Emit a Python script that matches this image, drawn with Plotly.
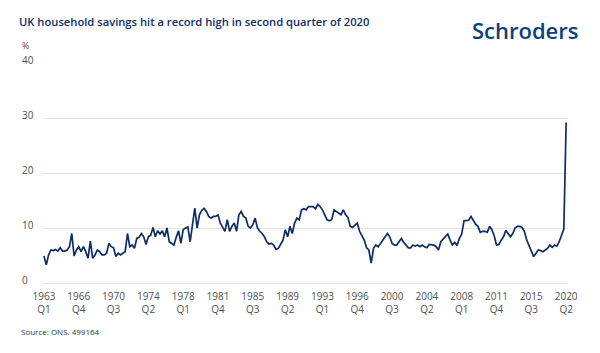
import plotly.graph_objects as go

title_text = "UK household savings hit a record high in second quarter of 2020"
source_text = "Source: ONS. 499164"

tick_labels = ["1963<br>Q1", "1966<br>Q4", "1970<br>Q3", "1974<br>Q2", "1978<br>Q1",
               "1981<br>Q4", "1985<br>Q3", "1989<br>Q2", "1993<br>Q1", "1996<br>Q4",
               "2000<br>Q3", "2004<br>Q2", "2008<br>Q1", "2011<br>Q4", "2015<br>Q3",
               "2020<br>Q2"]

y_ticks = [0, 10, 20, 30, 40]

savings_ratio = [
    4.9, 3.3, 5.1, 6.0, 5.9, 6.1, 5.8, 6.4, 5.8, 5.8,
    6.0, 6.6, 9.0, 4.9, 6.0, 6.6, 5.7, 6.6, 5.7, 4.5,
    7.6, 4.5, 5.1, 6.0, 5.7, 5.1, 5.1, 5.4, 7.2, 6.6,
    6.4, 4.8, 5.4, 5.1, 5.4, 5.7, 9.0, 6.6, 6.9, 6.3,
    8.1, 8.3, 9.0, 8.4, 7.0, 8.4, 8.7, 10.1, 8.4, 9.5,
    8.9, 9.5, 8.4, 10.0, 7.5, 7.2, 6.9, 8.3, 9.5, 7.2,
    9.7, 10.0, 10.2, 7.5, 10.9, 13.6, 10.0, 12.4, 13.2, 13.6,
    13.0, 12.1, 11.8, 12.1, 12.1, 12.4, 10.9, 10.0, 9.4, 11.5,
    9.4, 10.3, 10.9, 9.4, 12.4, 13.0, 12.1, 11.8, 10.3, 10.0,
    10.6, 11.8, 10.0, 9.4, 9.0, 8.4, 7.5, 7.1, 7.2, 6.9,
    6.1, 6.3, 7.0, 7.8, 9.7, 8.4, 10.3, 9.0, 10.9, 11.8,
    11.5, 13.3, 13.5, 13.3, 13.9, 13.9, 13.9, 13.5, 14.3, 13.9,
    13.3, 12.4, 11.5, 11.3, 11.5, 13.3, 13.0, 12.7, 12.4, 13.3,
    12.4, 11.9, 10.3, 10.1, 10.6, 10.9, 9.4, 8.6, 7.8, 6.4,
    6.0, 3.6, 6.3, 6.9, 6.6, 7.2, 7.8, 8.4, 9.0, 8.4,
    7.2, 6.9, 6.9, 7.5, 8.1, 7.4, 6.9, 6.4, 6.4, 6.9,
    6.7, 6.9, 6.6, 6.9, 6.6, 6.4, 7.0, 6.9, 6.9, 6.6,
    6.0, 7.5, 8.0, 8.4, 8.9, 7.8, 6.9, 7.4, 6.8, 8.1,
    8.9, 11.3, 11.3, 11.4, 12.1, 11.4, 10.7, 10.3, 9.2, 9.4,
    9.4, 9.2, 10.3, 9.7, 8.6, 6.9, 7.0, 7.8, 8.4, 9.6,
    9.0, 8.4, 9.0, 10.0, 10.3, 10.3, 10.1, 9.4, 7.8, 6.7,
    5.7, 4.8, 5.4, 6.0, 5.9, 5.7, 6.0, 6.3, 6.9, 6.5,
    6.9, 6.7, 7.5, 8.5, 9.8, 29.2,
]

x_index = list(range(len(savings_ratio)))
tick_positions = list(range(0, len(savings_ratio), 15))

NAVY = "#0e2c66"
GREY_TXT = "#505050"
GRID = "#e4e4e4"

# plot area in pixels: x 43..568, y 63..283
L, R, T, B = 43, 568, 63, 283
PW, PH = R - L, B - T


def px(xp):
    return (xp - L) / PW


def py(yp):
    return (B - yp) / PH


fig = go.Figure()
fig.add_trace(go.Scatter(
    x=x_index, y=savings_ratio, mode="lines",
    line=dict(color=NAVY, width=1.7),
    hoverinfo="skip", showlegend=False,
))

fig.update_layout(
    width=600, height=353,
    margin=dict(l=L, r=600 - R, t=T, b=353 - B),
    paper_bgcolor="white", plot_bgcolor="white",
    font=dict(family="Open Sans", size=10, color=GREY_TXT),
    xaxis=dict(
        range=[-0.4, len(savings_ratio) - 1 + 0.8],
        tickmode="array", tickvals=tick_positions, ticktext=tick_labels,
        showgrid=False, zeroline=False, showline=False, ticks="",
        ticklabelstandoff=6,
        tickfont=dict(family="Open Sans", size=10, color=GREY_TXT),
        fixedrange=True,
    ),
    yaxis=dict(
        range=[0, 40], tickmode="array", tickvals=y_ticks,
        showticklabels=False, showgrid=True, gridcolor=GRID, gridwidth=1,
        zeroline=True, zerolinecolor=GRID, zerolinewidth=1, showline=False,
        fixedrange=True,
    ),
)

annotations = []
for v in y_ticks:
    annotations.append(dict(
        x=px(20), xref="paper", xanchor="left", y=v, yref="y", yanchor="middle",
        yshift=3, text=str(v), showarrow=False,
        font=dict(family="Open Sans", size=10, color=GREY_TXT),
    ))
annotations.append(dict(
    x=px(20), xref="paper", xanchor="left", y=py(46), yref="paper", yanchor="middle",
    text="%", showarrow=False,
    font=dict(family="Open Sans", size=9, color=GREY_TXT),
))
annotations.append(dict(
    x=px(17), xref="paper", xanchor="left", y=py(21), yref="paper",
    yanchor="middle", text=title_text, showarrow=False,
    font=dict(family="Open Sans", size=11.2, color=NAVY, weight=600),
))
annotations.append(dict(
    x=px(581), xref="paper", xanchor="right", y=py(30), yref="paper",
    yanchor="middle", text="Schroders", showarrow=False,
    font=dict(family="Open Sans", size=22, color="#0d3f80", weight=600),
))
annotations.append(dict(
    x=px(19), xref="paper", xanchor="left", y=py(331), yref="paper",
    yanchor="middle", text=source_text, showarrow=False,
    font=dict(family="Open Sans", size=8, color="#333333"),
))
fig.update_layout(annotations=annotations)

fig.write_html("out.html")
